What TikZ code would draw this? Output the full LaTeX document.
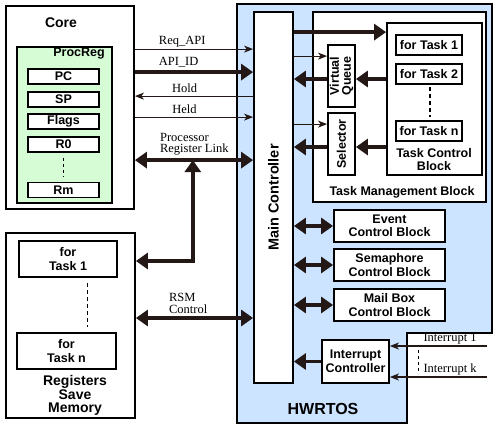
\documentclass[tikz,border=0pt]{standalone}
\usepackage{fontspec}
\setmainfont{Liberation Serif}
\setsansfont{Liberation Sans}
\usetikzlibrary{calc,arrows.meta}
\definecolor{osblue}{RGB}{204,228,255}
\definecolor{reggreen}{RGB}{214,252,214}
\definecolor{arrowdark}{RGB}{35,24,21}
\tikzset{
  block/.style={draw, line width=1.8pt, fill=white, inner sep=0pt, align=center,
    font=\sffamily\bfseries\fontsize{12.5}{13.5}\selectfont},
  blocktext/.style={inner sep=0pt, align=center, font=\sffamily\bfseries\fontsize{12.5}{13.5}\selectfont},
  sig/.style={draw=arrowdark, line width=1.1pt, -{Stealth[length=9pt,width=7pt,inset=2.5pt]}},
  bus/.style={draw=arrowdark, line width=3.5pt, -{Triangle[length=12pt,width=16pt]}},
  dbus/.style={bus, {Triangle[length=12pt,width=16pt]}-{Triangle[length=12pt,width=16pt]}},
  siglabel/.style={font=\fontsize{12.5}{11.5}\selectfont, inner sep=1pt, align=left},
}
\begin{document}
\begin{tikzpicture}[x=1pt, y=-1pt]
\useasboundingbox (0,0) rectangle (500,429);
%HWRTOS area
\draw[fill=osblue, line width=1.3pt] (237,4) -- (492,4) -- (492,333) -- (407,333) -- (407,423) -- (237,423) -- cycle;
\node[blocktext, font=\sffamily\bfseries\fontsize{16}{18}\selectfont] at (323,409) {HWRTOS};

%core with its registers
\node[block, minimum width=128pt, minimum height=203pt] (core) at (70,107.5) {};
\node[blocktext, font=\sffamily\bfseries\fontsize{14}{16}\selectfont] at (61,23) {Core};
\node[block, fill=reggreen, minimum width=95pt, minimum height=156pt] (procreg) at (64.5,125) {};
\node[blocktext, anchor=east] at (105,54) {ProcReg};
\begin{scope}[every node/.style={block, minimum width=71pt, minimum height=15pt}]
\node (pc) at (63.5,76.5) {PC};
\node (sp) at (63.5,99.5) {SP};
\node (flags) at (63.5,121.5) {Flags};
\node (rzero) at (63.5,144.5) {R0};
\node (rm) at (63.5,190) {Rm};
\end{scope}
\draw[line width=1pt, dash pattern=on 3pt off 3pt] ([yshift=-5pt]rzero.south) -- ([yshift=5pt]rm.north);

%registers save memory
\node[block, minimum width=129pt, minimum height=185pt] (rsm) at (70.5,325.5) {};
\node[block, minimum width=98pt, minimum height=36pt] (rsmone) at (68,259) {for\\Task 1};
\node[block, minimum width=99pt, minimum height=36pt] (rsmn) at (66.5,351) {for\\Task n};
\draw[line width=1pt, dash pattern=on 4pt off 3pt] (87,283) -- (87,327);
\node[blocktext, font=\sffamily\bfseries\fontsize{14}{13.5}\selectfont] at (75,395.5) {Registers\\Save\\Memory};

%main controller
\node[block, minimum width=39pt, minimum height=371pt] (mainctrl) at (273.5,197.5) {};
\node[blocktext, rotate=90, font=\sffamily\bfseries\fontsize{14.5}{16}\selectfont] at (mainctrl.center) {Main Controller};

%task management block
\node[block, minimum width=173pt, minimum height=190pt] (tmb) at (399.5,107) {};
\node[blocktext] at (402,192) {Task Management Block};
\node[block, minimum width=95pt, minimum height=152pt] (tcb) at (434.5,99) {};
\begin{scope}[every node/.style={block, minimum width=66pt, minimum height=20pt}]
\node (tcbone) at (429,45) {for Task 1};
\node (tcbtwo) at (429,74) {for Task 2};
\node (tcbn) at (429,131) {for Task n};
\end{scope}
\draw[line width=2pt, dash pattern=on 4pt off 3pt] (430,87) -- (430,117);
\node[blocktext] at (434,159.5) {Task Control\\Block};
\node[block, minimum width=27pt, minimum height=62pt] (vqueue) at (341.5,76) {};
\node[blocktext, rotate=90, font=\sffamily\bfseries\fontsize{12.5}{12}\selectfont] at (vqueue.center) {Virtual\\Queue};
\node[block, minimum width=27pt, minimum height=62pt] (selector) at (341.5,144) {};
\node[blocktext, rotate=90] at (selector.center) {Selector};

%other control blocks
\begin{scope}[every node/.style={block, minimum width=111pt, minimum height=32pt}]
\node (ecb) at (389.5,226) {Event\\Control Block};
\node (scb) at (389.5,265) {Semaphore\\Control Block};
\node (mcb) at (389.5,305) {Mail Box\\Control Block};
\end{scope}
\node[block, minimum width=67pt, minimum height=43pt] (intctrl) at (355.5,361.5) {Interrupt\\Controller};

%core <-> main controller
\draw[sig] ([yshift=-44pt]core.north east) -- ([yshift=-44pt]core.north east -| mainctrl.west) node[siglabel, pos=0.4, above] {Req\_API};
\draw[bus] ([yshift=-67pt]core.north east) -- ([yshift=-67pt]core.north east -| mainctrl.west) node[siglabel, pos=0.37, above=2pt] {API\_ID};
\draw[sig] ([yshift=-91pt]core.north east -| mainctrl.west) -- ([yshift=-91pt]core.north east) node[siglabel, pos=0.58, above=2pt] {Hold};
\draw[sig] ([yshift=-112pt]core.north east) -- ([yshift=-112pt]core.north east -| mainctrl.west) node[siglabel, pos=0.42, above=2pt] {Held};
\draw[dbus] ([yshift=-155pt]core.north east) -- ([yshift=-155pt]core.north east -| mainctrl.west)
  coordinate[pos=0.49] (linkjoint) node[siglabel, pos=0.19, anchor=south west, yshift=2pt] {Processor\\Register Link};
\draw[dbus] ([yshift=64.5pt]rsm.east) -| (linkjoint);
\draw[dbus] ([yshift=7.5pt]rsm.east) -- ([yshift=7.5pt]rsm.east -| mainctrl.west)
  node[siglabel, pos=0.26, anchor=south west, yshift=2pt] {RSM\\Control};

%main controller <-> task management
\draw[bus] ([yshift=-21pt]mainctrl.north east) -- ([yshift=-21pt]mainctrl.north east -| tcb.west);
\draw[sig] ([yshift=-12pt]vqueue.north west -| mainctrl.east) -- ([yshift=-12pt]vqueue.north west);
\draw[bus] ([yshift=-3pt]vqueue.east -| tcb.west) -- ([yshift=-3pt]vqueue.east);
\draw[bus] ([yshift=-3pt]vqueue.west) -- ([yshift=-3pt]vqueue.west -| mainctrl.east);
\draw[sig] ([yshift=-12pt]selector.north west -| mainctrl.east) -- ([yshift=-12pt]selector.north west);
\draw[bus] ([yshift=-3pt]selector.east -| tcb.west) -- ([yshift=-3pt]selector.east);
\draw[bus] ([yshift=-3pt]selector.west) -- ([yshift=-3pt]selector.west -| mainctrl.east);

%main controller <-> control blocks
\draw[dbus] (ecb.west -| mainctrl.east) -- (ecb.west);
\draw[dbus] (scb.west -| mainctrl.east) -- (scb.west);
\draw[dbus] (mcb.west -| mainctrl.east) -- (mcb.west);
\draw[bus] (intctrl.west) -- (intctrl.west -| mainctrl.east);

%interrupts
\coordinate (irqone) at (487,346);
\coordinate (irqk) at (487,377);
\draw[sig] (irqone) -- (irqone -| intctrl.east) node[siglabel, pos=0.38, above=0pt] {Interrupt 1};
\draw[sig] (irqk) -- (irqk -| intctrl.east) node[siglabel, pos=0.38, above=0pt] {Interrupt k};
\draw[line width=1pt, dash pattern=on 3pt off 3pt] (418,350) -- (418,372);
\end{tikzpicture}
\end{document}
